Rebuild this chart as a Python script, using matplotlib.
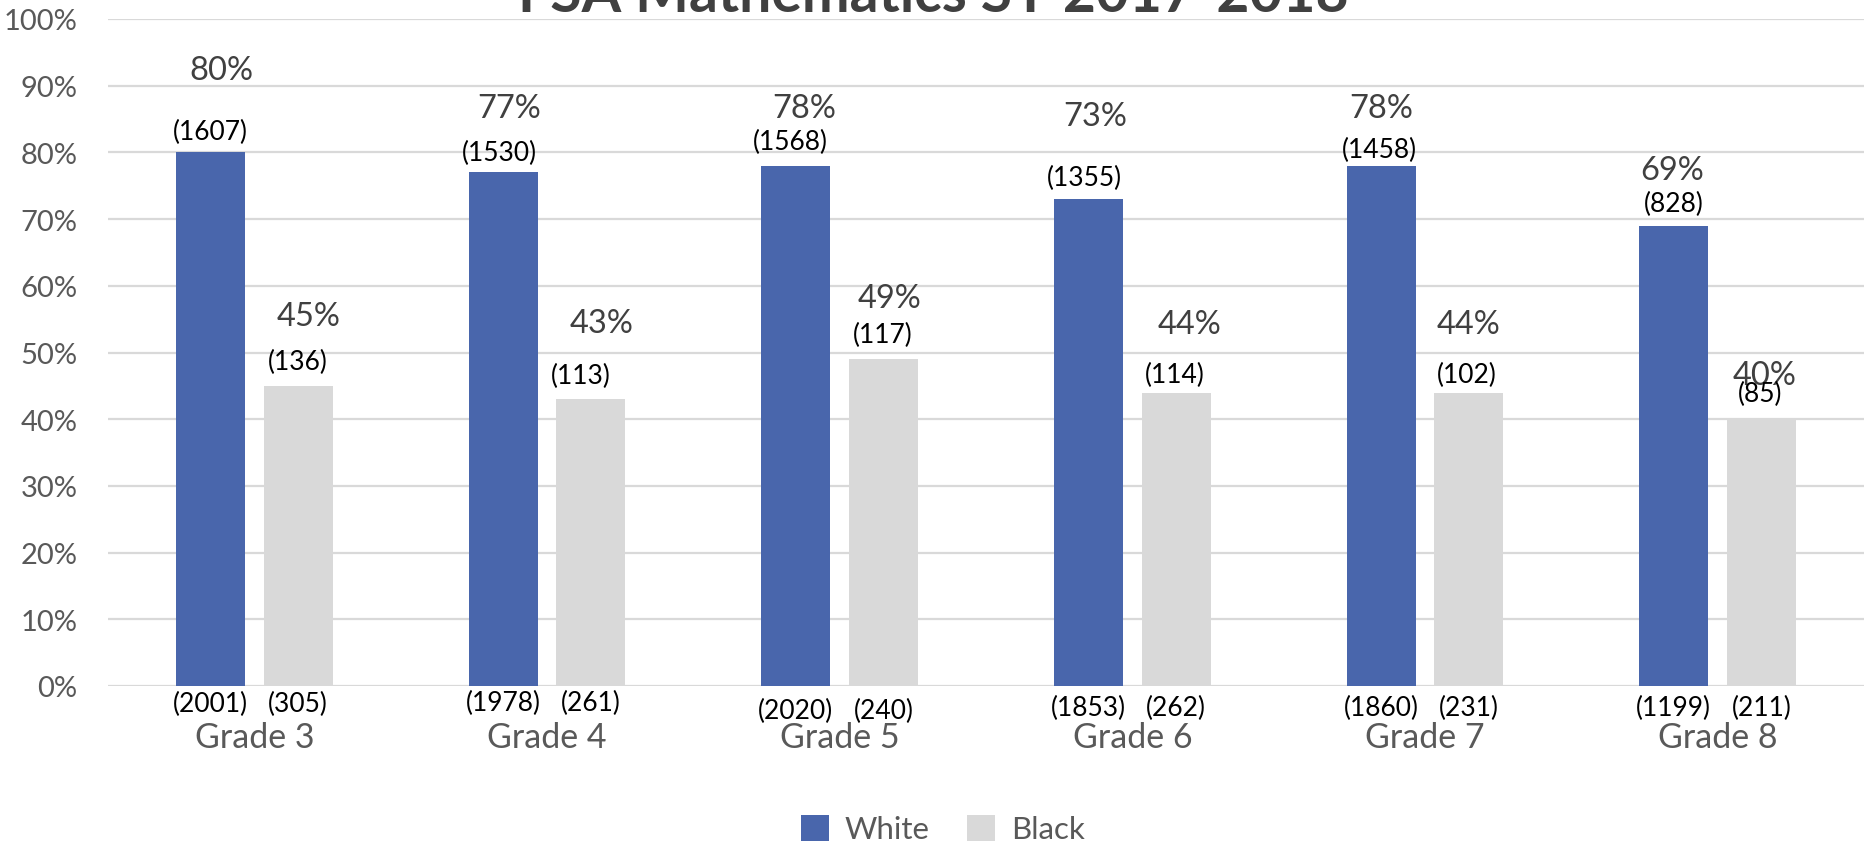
import matplotlib
matplotlib.use("Agg")
import matplotlib.pyplot as plt
import numpy as np

# ---- data ----
grades = ["Grade 3", "Grade 4", "Grade 5", "Grade 6", "Grade 7", "Grade 8"]
white_pct = [80, 77, 78, 73, 78, 69]
black_pct = [45, 43, 49, 44, 44, 40]
white_pass_n = [1607, 1530, 1568, 1355, 1458, 828]
black_pass_n = [136, 113, 117, 114, 102, 85]
white_total_n = [2001, 1978, 2020, 1853, 1860, 1199]
black_total_n = [305, 261, 240, 262, 231, 211]
title = "FSA Mathematics SY 2017-2018"

# ---- label nudges (manual placement as in the original) ----
w_pct_dy = [12.3, 9.6, 8.6, 12.4, 8.6, 8.4]
w_pct_dx = [0.037, 0.022, 0.028, 0.024, 0.0, -0.004]
w_n_dy = [3.2, 3.0, 3.6, 3.3, 2.4, 3.4]
w_n_dx = [0.0, -0.014, -0.02, -0.012, -0.004, 0.0]
b_pct_dy = [10.4, 11.4, 9.1, 10.3, 10.3, 6.7]
b_pct_dx = [0.037, 0.037, 0.02, 0.045, 0.0, 0.012]
b_n_dy = [3.7, 3.6, 3.7, 2.7, 2.7, 3.8]
b_n_dx = [0.0, -0.033, -0.004, -0.004, -0.008, -0.004]
bot_dy = [2.6, 2.4, 3.6, 3.2, 3.2, 3.2]

FONT = ["Lato", "DejaVu Sans"]
plt.rcParams["font.family"] = FONT

WHITE_C = "#4966AC"
BLACK_C = "#D9D9D9"
GRID_C = "#D9D9D9"
TXT_GRAY = "#595959"
LBL_GRAY = "#404040"

fig = plt.figure(figsize=(18.64, 8.45), dpi=100)
ax = fig.add_axes([108 / 1864, 1 - 687 / 845, 1 - 108 / 1864, (687 - 20) / 845])

x = np.arange(len(grades))
off = 0.15
w = 0.236
ax.bar(x - off, white_pct, width=w, color=WHITE_C, label="White", zorder=3)
ax.bar(x + off, black_pct, width=w, color=BLACK_C, label="Black", zorder=3)

ax.set_xlim(-0.5, len(grades) - 0.5)
ax.set_ylim(0, 100)
ax.set_yticks(np.arange(0, 101, 10))
ax.set_yticklabels([f"{v}%" for v in range(0, 101, 10)])
ax.yaxis.grid(True, color=GRID_C, linewidth=1.6, zorder=0)
ax.set_axisbelow(True)
for s in ["top", "right", "left", "bottom"]:
    ax.spines[s].set_visible(False)
ax.tick_params(axis="y", length=0, pad=22, labelsize=21, labelcolor=TXT_GRAY)
ax.set_xticks(x)
ax.set_xticklabels(grades)
ax.tick_params(axis="x", length=0, pad=25, labelsize=24.5, labelcolor=TXT_GRAY)

for i in range(len(grades)):
    xw = x[i] - off
    xb = x[i] + off
    ax.text(xw + w_pct_dx[i], white_pct[i] + w_pct_dy[i], f"{white_pct[i]}%",
            ha="center", va="center", fontsize=23.5, color=LBL_GRAY)
    ax.text(xw + w_n_dx[i], white_pct[i] + w_n_dy[i], f"({white_pass_n[i]})",
            ha="center", va="center", fontsize=19, color="black")
    ax.text(xb + b_pct_dx[i], black_pct[i] + b_pct_dy[i], f"{black_pct[i]}%",
            ha="center", va="center", fontsize=23.5, color=LBL_GRAY)
    ax.text(xb + b_n_dx[i], black_pct[i] + b_n_dy[i], f"({black_pass_n[i]})",
            ha="center", va="center", fontsize=19, color="black")
    ax.text(xw, -bot_dy[i], f"({white_total_n[i]})",
            ha="center", va="center", fontsize=19, color="black", clip_on=False)
    ax.text(xb, -bot_dy[i], f"({black_total_n[i]})",
            ha="center", va="center", fontsize=19, color="black", clip_on=False)

fig.text(933 / 1864, 1 - 12 / 845, title, ha="center", va="baseline",
         fontsize=41, fontweight="bold", color=LBL_GRAY)

leg = fig.legend(loc="center", bbox_to_anchor=(943 / 1864, 1 - 830 / 845), ncol=2,
                 frameon=False, fontsize=22.5, handlelength=0.9, handleheight=0.9,
                 handletextpad=0.5, columnspacing=1.2)
for t in leg.get_texts():
    t.set_color(TXT_GRAY)

fig.savefig("out.png", dpi=100)
